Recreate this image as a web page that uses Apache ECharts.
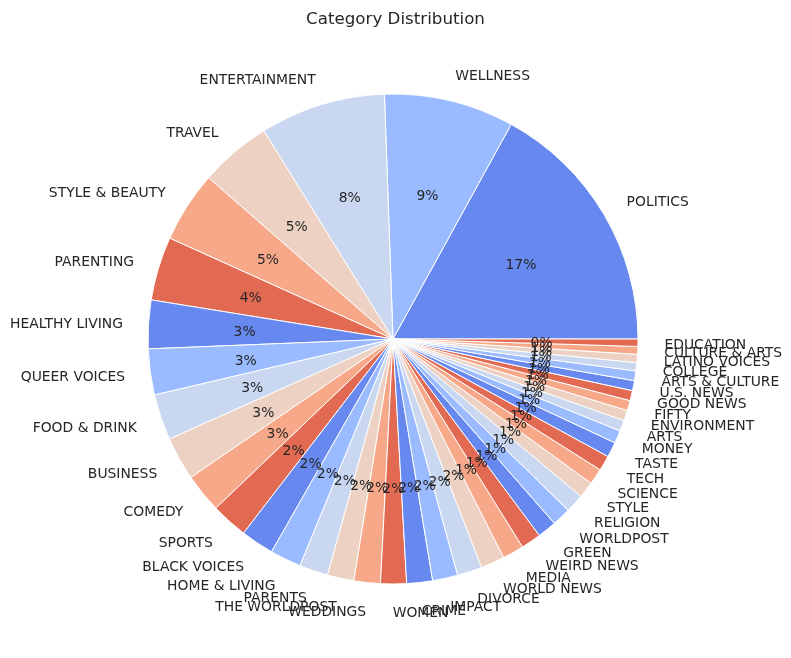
<!DOCTYPE html>
<html><head><meta charset="utf-8">
<script src="https://cdn.jsdelivr.net/npm/echarts@6/dist/echarts.min.js"></script>
<style>html,body{margin:0;padding:0;background:#fff}#c{width:791px;height:658px}</style>
</head><body><div id="c"></div>
<script>
const categories = ["POLITICS","WELLNESS","ENTERTAINMENT","TRAVEL","STYLE & BEAUTY","PARENTING","HEALTHY LIVING","QUEER VOICES","FOOD & DRINK","BUSINESS","COMEDY","SPORTS","BLACK VOICES","HOME & LIVING","PARENTS","THE WORLDPOST","WEDDINGS","WOMEN","CRIME","IMPACT","DIVORCE","WORLD NEWS","MEDIA","WEIRD NEWS","GREEN","WORLDPOST","RELIGION","STYLE","SCIENCE","TECH","TASTE","MONEY","ARTS","ENVIRONMENT","FIFTY","GOOD NEWS","U.S. NEWS","ARTS & CULTURE","COLLEGE","LATINO VOICES","CULTURE & ARTS","EDUCATION"];
const counts = [35602,17945,17362,9900,9814,8791,6694,6347,6340,5992,5400,5077,4583,4320,3955,3664,3653,3572,3562,3484,3426,3299,2944,2777,2622,2579,2577,2254,2206,2104,2096,1756,1509,1444,1401,1398,1377,1339,1144,1130,1074,1014];
const palette = ["#6788ee","#9abbff","#c9d7f0","#edd1c2","#f7a889","#e26952"];
const titleText = "Category Distribution";

const CX = 393, CY = 339, R = 245;
const total = counts.reduce((a,b)=>a+b,0);
const textColor = "#262626";
const font = "DejaVu Sans";
const DY = 2;

const baseData = categories.map((c,i)=>({name:c, value:counts[i], itemStyle:{color:palette[i%palette.length]}}));
const clearData = categories.map((c,i)=>({name:c, value:counts[i]}));

const common = {
  type:'pie', center:[CX,CY], startAngle:0, clockwise:false, silent:true,
  animation:false, minAngle:0, avoidLabelOverlap:false
};

const chart = echarts.init(document.getElementById('c'), null, {renderer:'canvas'});
chart.setOption({
  backgroundColor:'#ffffff',
  title:{text:titleText, left:'center', top:6, textStyle:{fontFamily:font, fontSize:16.7, fontWeight:'normal', color:textColor}},
  series:[
    Object.assign({}, common, {
      radius:[0,R], data:baseData,
      itemStyle:{borderColor:'#ffffff', borderWidth:1},
      label:{show:false}, labelLine:{show:false}
    }),
    Object.assign({}, common, {
      radius:[0,R*2.2], data:clearData,
      itemStyle:{color:'rgba(0,0,0,0)', borderWidth:0},
      label:{show:true, position:'inside', fontFamily:font, fontSize:13.9, color:textColor,
        formatter:p=>(p.value/total*100).toFixed(0)+'%'},
      labelLine:{show:false},
      labelLayout:function(p){
        const r = p.labelRect;
        const mx = r.x + r.width/2, my = r.y + r.height/2;
        const k = 0.6/1.1;
        return {x: CX + (mx-CX)*k, y: CY + (my-CY)*k + DY, align:'center', verticalAlign:'middle', hideOverlap:false};
      }
    }),
    Object.assign({}, common, {
      radius:[0,R*2.2], data:clearData,
      itemStyle:{color:'rgba(0,0,0,0)', borderWidth:0},
      label:{show:true, position:'inside', fontFamily:font, fontSize:13.9, color:textColor,
        formatter:p=>p.name},
      labelLine:{show:false},
      labelLayout:function(p){
        const r = p.labelRect;
        const mx = r.x + r.width/2, my = r.y + r.height/2;
        const right = mx > CX;
        return {x: mx + (right ? -1 : 2), y: my + DY, align: right ? 'left' : 'right', verticalAlign:'middle', hideOverlap:false};
      }
    })
  ]
});
</script></body></html>
